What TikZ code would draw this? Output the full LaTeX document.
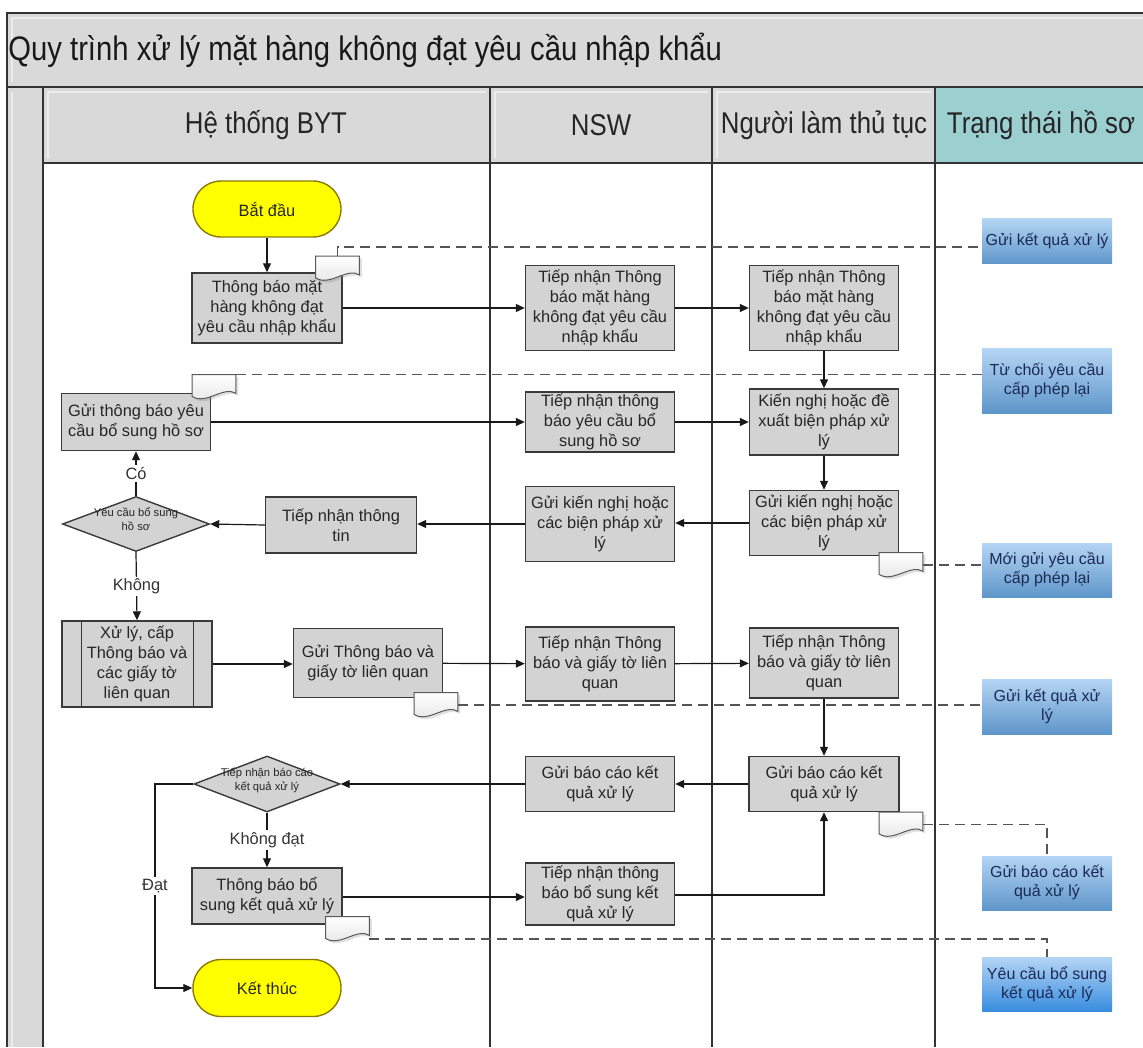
\documentclass[tikz,border=0pt]{standalone}
\usepackage{fontspec}
\setmainfont{Liberation Sans}
\newfontfamily\narrowsans[FakeStretch=0.86]{Liberation Sans}
\usetikzlibrary{arrows.meta,calc,shapes.geometric,shadows}

\definecolor{lanegray}{HTML}{D9D9D9}
\definecolor{bevel}{HTML}{ECECEC}
\definecolor{boxgray}{HTML}{D3D3D3}
\definecolor{boxedge}{HTML}{3A3A3A}
\definecolor{lanedark}{HTML}{333333}
\definecolor{statusteal}{HTML}{9CCFD0}
\definecolor{termyellow}{HTML}{FFFF00}
\definecolor{termedge}{HTML}{8C7A00}
\definecolor{sttop}{HTML}{B4D5F3}
\definecolor{stmid}{HTML}{A39DD0}
\definecolor{stbot}{HTML}{5E96CA}
\definecolor{sttext}{HTML}{1C2A55}
\definecolor{dashgray}{HTML}{555555}

% text of a decision diamond, kept out of the shape's size computation
\newcommand{\dtext}[1]{\makebox[0pt]{\smash{\begin{tabular}{@{}c@{}}#1\end{tabular}}}}
% small document symbol drawn over a named placeholder node
\newcommand{\notedoc}[1]{%
  \draw[docline] (#1.north west) -- (#1.north east) -- ($(#1.south east)+(0,-6)$)
    .. controls ($(#1.south east)+(-12,-14)$) and ($(#1.south west)+(14,6)$) .. ($(#1.south west)+(0,-3)$) -- cycle;}

\begin{document}
\begin{tikzpicture}[x=0.5pt,y=-0.5pt,
  boxwh/.style 2 args={minimum width={#1*0.5pt},minimum height={#2*0.5pt}},
  proc/.style={draw=boxedge,fill=boxgray,line width=0.7pt,align=center,inner sep=1pt,text=black!85,font=\fontsize{8.2}{10}\selectfont},
  term/.style={proc,fill=termyellow,draw=termedge,rounded corners=14pt},
  decision/.style={shape=diamond,draw=boxedge,fill=boxgray,line width=0.7pt,inner sep=0pt,text=black!85,font=\fontsize{5.6}{6.8}\selectfont},
  docbox/.style={inner sep=0pt,minimum width=21.5pt,minimum height=12pt},
  docline/.style={draw=gray!70!black,line width=0.5pt,top color=white,bottom color=gray!22,
    drop shadow={opacity=0.25,shadow xshift=1.2pt,shadow yshift=-1.2pt}},
  status/.style={top color=sttop,middle color=stmid,bottom color=stbot,draw=none,inner sep=1pt,align=center,text=sttext,font=\fontsize{8}{9.5}\selectfont},
  arr/.style={draw=black!90,line width=0.6pt,-{Triangle[length=4.5pt,width=4pt]}},
  dashline/.style={draw=dashgray,line width=0.8pt,dash pattern=on 5pt off 3pt},
  lbl/.style={fill=white,inner sep=1pt,text=black!80,font=\fontsize{8.2}{10}\selectfont},
  lanehead/.style={inner sep=0pt,text=black!85,font=\narrowsans\fontsize{15}{18}\selectfont},
  laneline/.style={draw=lanedark,line width=1pt}]

\useasboundingbox (0,0) rectangle (1143,1047);

% ---- pool: title bar, header row, lanes
\fill[lanegray] (7,13) rectangle (1143,87);
\fill[lanegray] (7,87) rectangle (43,1047);
\fill[lanegray] (43,87) rectangle (935,163);
\fill[statusteal] (935,87) rectangle (1143,163);
\draw[bevel,line width=0.6pt] (12,82) -- (12,18) -- (1143,18);
\draw[bevel,line width=0.6pt] (12,1047) -- (12,92);
\foreach \a/\b in {43/490,490/712,712/935}
  {\draw[bevel,line width=0.6pt] (\a+5,158) -- (\a+5,92) -- (\b-4,92);}
\draw[laneline] (7,1047) -- (7,13) -- (1143,13);
\draw[laneline] (7,87) -- (1143,87);
\draw[laneline] (43,163) -- (1143,163);
\foreach \x in {43,490,712,935}
  {\draw[laneline] (\x,87) -- (\x,1047);}

\node[anchor=west,inner sep=0pt,text=black!90,font=\narrowsans\fontsize{17}{20}\selectfont] (title) at (8,50)
  {Quy trình xử lý mặt hàng không đạt yêu cầu nhập khẩu};
\node[lanehead] (hBYT) at (266,125) {Hệ thống BYT};
\node[lanehead] (hNSW) at (601,125) {NSW};
\node[lanehead] (hNTT) at (824,125) {Người làm thủ tục};
\node[lanehead] (hTT) at (1041,125) {Trạng thái hồ sơ};

% ---- Hệ thống BYT lane
\node[term,boxwh={148}{56}] (start) at (267,209) {Bắt đầu};
\node[proc,boxwh={150}{70}] (tb1) at (267,308) {Thông báo mặt\\hàng không đạt\\yêu cầu nhập khẩu};
\node[proc,boxwh={149}{57}] (gtb) at (136,422) {Gửi thông báo yêu\\cầu bổ sung hồ sơ};
\node[decision,boxwh={147}{55}] (d1) at (136,524) {\dtext{Yêu cầu bổ sung\\hồ sơ}};
\node[proc,boxwh={151}{56}] (ttt) at (341,525) {Tiếp nhận thông\\tin};
\node[proc,boxwh={150}{86}] (xl) at (137,664) {Xử lý, cấp\\Thông báo và\\các giấy tờ\\liên quan};
\draw[boxedge,line width=0.7pt] ($(xl.north west)+(20,0)$) -- ($(xl.south west)+(20,0)$);
\draw[boxedge,line width=0.7pt] ($(xl.north east)+(-19,0)$) -- ($(xl.south east)+(-19,0)$);
\node[proc,boxwh={149}{69}] (gtbgt) at (368,663) {Gửi Thông báo và\\giấy tờ liên quan};
\node[decision,boxwh={146}{56}] (d2) at (267,784) {\dtext{Tiếp nhận báo cáo\\kết quả xử lý}};
\node[proc,boxwh={150}{56}] (tbbs) at (267,896) {Thông báo bổ\\sung kết quả xử lý};
\node[term,boxwh={148}{57}] (end) at (267,988) {Kết thúc};

% ---- NSW lane
\node[proc,boxwh={149}{85}] (nsw1) at (600,308) {Tiếp nhận Thông\\báo mặt hàng\\không đạt yêu cầu\\nhập khẩu};
\node[proc,boxwh={149}{57}] (nsw2) at (600,422) {Tiếp nhận thông\\báo yêu cầu bổ\\sung hồ sơ};
\node[proc,boxwh={149}{75}] (nsw3) at (600,524) {Gửi kiến nghị hoặc\\các biện pháp xử\\lý};
\node[proc,boxwh={149}{74}] (nsw4) at (600,664) {Tiếp nhận Thông\\báo và giấy tờ liên\\quan};
\node[proc,boxwh={149}{55}] (nsw5) at (600,784) {Gửi báo cáo kết\\quả xử lý};
\node[proc,boxwh={149}{62}] (nsw6) at (600,894) {Tiếp nhận thông\\báo bổ sung kết\\quả xử lý};

% ---- Người làm thủ tục lane
\node[proc,boxwh={149}{85}] (ntt1) at (824,308) {Tiếp nhận Thông\\báo mặt hàng\\không đạt yêu cầu\\nhập khẩu};
\node[proc,boxwh={149}{66}] (ntt2) at (824,422) {Kiến nghị hoặc đề\\xuất biện pháp xử\\lý};
\node[proc,boxwh={149}{65}] (ntt3) at (824,523) {Gửi kiến nghị hoặc\\các biện pháp xử\\lý};
\node[proc,boxwh={149}{70}] (ntt4) at (824,663) {Tiếp nhận Thông\\báo và giấy tờ liên\\quan};
\node[proc,boxwh={150}{55}] (ntt5) at (824,784) {Gửi báo cáo kết\\quả xử lý};

% ---- Trạng thái hồ sơ lane
\node[status,boxwh={130}{45}] (s1) at (1047,241.5) {Gửi kết quả xử lý};
\node[status,boxwh={130}{64}] (s2) at (1047,381) {Từ chối yêu cầu\\cấp phép lại};
\node[status,boxwh={130}{54}] (s3) at (1047,570) {Mới gửi yêu cầu\\cấp phép lại};
\node[status,boxwh={130}{55}] (s4) at (1047,706.5) {Gửi kết quả xử\\lý};
\node[status,boxwh={130}{54}] (s5) at (1047,883) {Gửi báo cáo kết\\quả xử lý};
\node[status,boxwh={130}{54},bottom color=stbot!75!cyan!80!blue] (s6) at (1047,984) {Yêu cầu bổ sung\\kết quả xử lý};

% ---- document symbols
\node[docbox] (doc1) at (337.5,268.5) {};
\node[docbox] (doc2) at (214,387) {};
\node[docbox] (doc3) at (901,565) {};
\node[docbox] (doc4) at (436,705) {};
\node[docbox] (doc5) at (901,824.5) {};
\node[docbox] (doc6) at (347.5,929) {};
\foreach \d in {doc1,doc2,doc3,doc4,doc5,doc6} {\notedoc{\d}}

% ---- status links
\draw[dashline] (doc1.north) |- ([yshift=-2.75pt]s1.west);
\draw[dashline] (doc2.north east) -- (doc2.north east -| s2.west);
\draw[dashline] (doc3.east) -- (doc3.east -| s3.west);
\draw[dashline] (doc4.east) -- (doc4.east -| s4.west);
\draw[dashline] (doc5.east) -| (s5.north);
\draw[dashline] ([yshift=-5pt]doc6.east) -| (s6.north);

% ---- sequence flow
\draw[arr] (start) -- (tb1);
\draw[arr] (tb1) -- (nsw1);
\draw[arr] (nsw1) -- (ntt1);
\draw[arr] (ntt1) -- (ntt2);
\draw[arr] (gtb) -- (gtb -| nsw2.west);
\draw[arr] (nsw2) -- (ntt2);
\draw[arr] (ntt2) -- (ntt3);
\draw[arr] (ntt3.west) -- (ntt3.west -| nsw3.east);
\draw[arr] (nsw3.west) -- (nsw3.west -| ttt.east);
\draw[arr] (ttt.west) -- (d1.east);
\draw[arr] (d1.north) -- node[lbl]{Có} (gtb.south);
\draw[arr] (d1.south) -- node[lbl]{Không} (xl.north);
\draw[arr] (xl.east) -- (xl.east -| gtbgt.west);
\draw[arr] (gtbgt) -- (nsw4);
\draw[arr] (nsw4) -- (ntt4);
\draw[arr] (ntt4) -- (ntt5);
\draw[arr] (ntt5) -- (nsw5);
\draw[arr] (nsw5.west) -- (d2.east);
\draw[arr] (d2.south) -- node[lbl]{Không đạt} (tbbs.north);
\coordinate (bendD) at (155,784);
\draw[arr] (d2.west) -- (bendD) -- node[lbl]{Đạt} (bendD |- end.west) -- (end.west);
\draw[arr] ([yshift=-0.5pt]tbbs.east) -- ([yshift=-0.5pt]tbbs.east -| nsw6.west);
\draw[arr] ([yshift=-0.5pt]nsw6.east) -| (ntt5.south);

\end{tikzpicture}
\end{document}
